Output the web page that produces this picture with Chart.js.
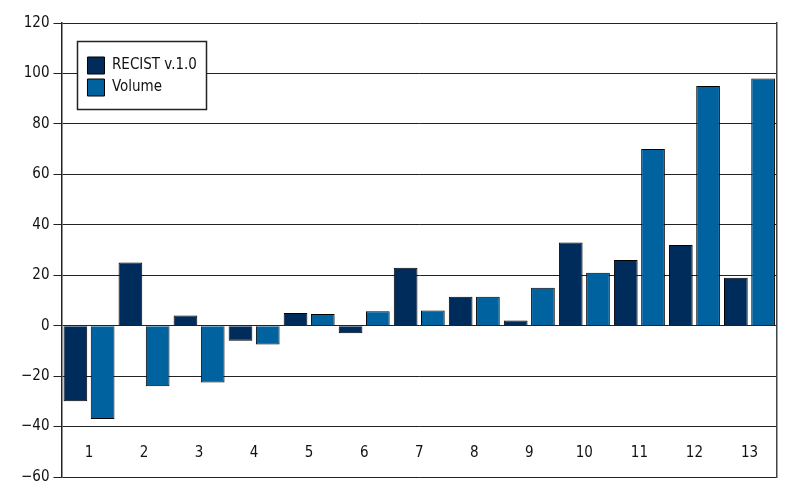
<!DOCTYPE html>
<html>
<head>
<meta charset="utf-8">
<script src="https://cdn.jsdelivr.net/npm/chart.js@4"></script>
<style>
  html, body { margin: 0; padding: 0; background: #fff; }
  #wrap { width: 800px; height: 500px; }
</style>
</head>
<body>
<div id="wrap"><canvas id="chart" width="800" height="500"></canvas></div>
<script>
const categories = ["1", "2", "3", "4", "5", "6", "7", "8", "9", "10", "11", "12", "13"];
const recistValues = [-30, 25, 4, -6, 5, -3, 23, 11.5, 2, 33, 26, 32, 19];
const volumeValues = [-37, -24, -22.5, -7.5, 4.6, 5.7, 6, 11.5, 15, 21, 70, 95, 98];
const seriesNames = ["RECIST v.1.0", "Volume"];

const FONT = "'Liberation Sans Narrow', 'DejaVu Sans Condensed', 'Arial Narrow', sans-serif";

// legend sits inside the plot, framed in a white box
const legendFrame = {
    id: "legendFrame",
    afterUpdate(chart) {
        const lg = chart.legend;
        if (!lg || lg._framed) return;
        const orig = lg.draw.bind(lg);
        lg.draw = function () {
            const hb = lg.legendHitBoxes;
            const ca = chart.chartArea;
            const ctx = chart.ctx;
            ctx.save();
            if (hb && hb.length) {
                const dx = ca.left + 26 - hb[0].left;
                const dy = ca.top + 34 - hb[0].top;
                ctx.translate(dx, dy);
                const l = hb[0].left - 10;
                const t = hb[0].top - 16;
                const r = Math.max(...hb.map((b) => b.left + b.width)) + 10;
                const last = hb[hb.length - 1];
                const btm = last.top + last.height + 13;
                ctx.fillStyle = "#fff";
                ctx.fillRect(l, t, r - l, btm - t);
                ctx.strokeStyle = "#222";
                ctx.lineWidth = 1.5;
                ctx.strokeRect(Math.round(l) + 0.5, Math.round(t) + 0.5, Math.round(r - l), Math.round(btm - t));
            }
            orig();
            ctx.restore();
        };
        lg._framed = true;
    }
};

new Chart(document.getElementById("chart"), {
    type: "bar",
    data: {
        labels: categories,
        datasets: [
            { label: seriesNames[0], data: recistValues, backgroundColor: "#002c5c", borderColor: "#000", borderWidth: 1, barPercentage: 0.87, categoryPercentage: 0.99 },
            { label: seriesNames[1], data: volumeValues, backgroundColor: "#0063a0", borderColor: "#000", borderWidth: 1, barPercentage: 0.87, categoryPercentage: 0.99 },
        ],
    },
    options: {
        responsive: false,
        animation: false,
        layout: { padding: { top: 23, right: 15, bottom: 23, left: 17 } },
        plugins: {
            title: { display: false },
            tooltip: { enabled: false },
            legend: {
                position: "chartArea",
                align: "start",
                labels: {
                    color: "#111",
                    font: { family: FONT, size: 15 },
                    boxWidth: 17,
                    boxHeight: 17,
                    padding: 5,
                },
            },
        },
        scales: {
            x: {
                position: "bottom",
                grid: { display: false },
                border: { display: false },
                ticks: { color: "#111", font: { family: FONT, size: 15 }, padding: -41, maxRotation: 0, autoSkip: false },
            },
            y: {
                position: "left",
                min: -60,
                max: 120,
                ticks: {
                    stepSize: 20,
                    color: "#111",
                    font: { family: FONT, size: 15 },
                    padding: 4,
                    callback: (v) => String(v).replace("-", "\u2212"),
                },
                grid: { color: "#222", lineWidth: 1, tickLength: 8, z: -1 },
                border: { display: true, color: "#222", width: 1.5 },
            },
            y2: {
                type: "linear",
                position: "right",
                min: -60,
                max: 120,
                ticks: { display: false },
                grid: { display: false },
                border: { display: true, color: "#444", width: 1.5 },
            },
        },
    },
    plugins: [legendFrame],
});
</script>
</body>
</html>
